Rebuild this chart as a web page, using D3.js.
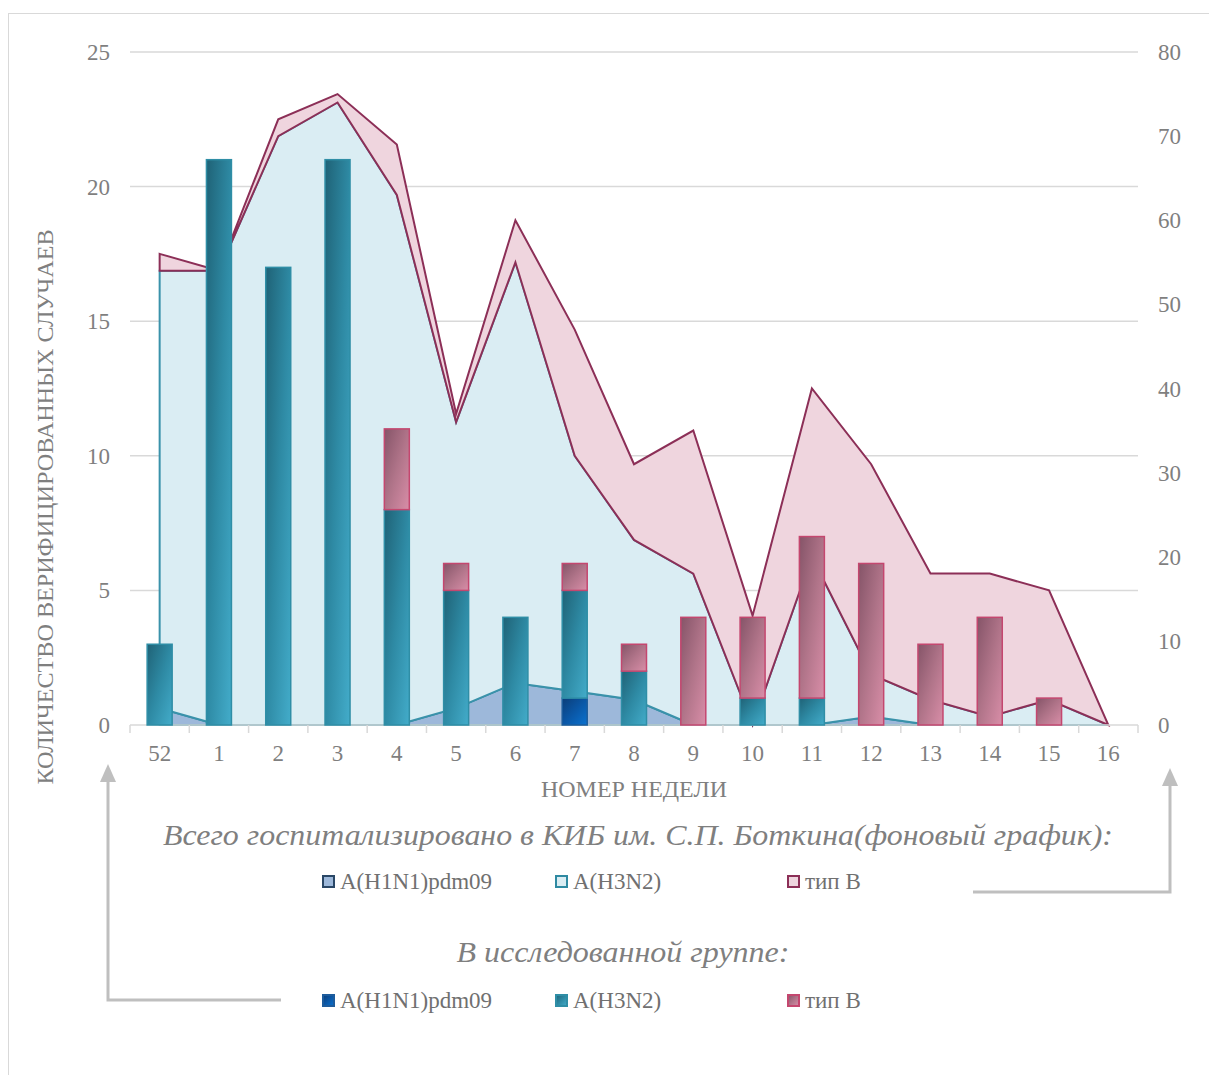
<!DOCTYPE html>
<html>
<head>
<meta charset="utf-8">
<script src="https://cdn.jsdelivr.net/npm/d3@7"></script>
<style>
  html, body { margin: 0; padding: 0; background: #ffffff; }
  svg { display: block; }
</style>
</head>
<body>
<svg id="chart" width="1209" height="1075" font-family="'Liberation Serif', 'DejaVu Serif', 'Noto Serif', 'Times New Roman', Times, serif"></svg>
<script>
// Epidemiological weeks
const weeks = ["52","1","2","3","4","5","6","7","8","9","10","11","12","13","14","15","16"];

// All hospitalised at Botkin hospital (background areas, right axis)
const hospH1N1 = [2, 0, 0, 0, 0, 2, 5, 4, 3, 0, 0, 0, 1, 0, 0, 0, 0];
const hospH3N2 = [52, 54, 70, 74, 63, 34, 50, 28, 19, 18, 0, 20, 5, 3, 1, 3, 0];
const hospB    = [2, 0, 2, 1, 6, 1, 5, 15, 9, 17, 13, 20, 25, 15, 17, 13, 0];

// Study group (stacked bars, left axis)
const studyH1N1 = [0, 0, 0, 0, 0, 0, 0, 1, 0, 0, 0, 0, 0, 0, 0, 0, 0];
const studyH3N2 = [3, 21, 17, 21, 8, 5, 4, 4, 2, 0, 1, 1, 0, 0, 0, 0, 0];
const studyB    = [0, 0, 0, 0, 3, 1, 0, 1, 1, 4, 3, 6, 6, 3, 4, 1, 0];

// Axis ticks
const leftTicks  = [0, 5, 10, 15, 20, 25];
const rightTicks = [0, 10, 20, 30, 40, 50, 60, 70, 80];

// Text
const yTitle = "КОЛИЧЕСТВО ВЕРИФИЦИРОВАННЫХ СЛУЧАЕВ";
const xTitle = "НОМЕР НЕДЕЛИ";
const legendTitle1 = "Всего госпитализировано в КИБ им. С.П. Боткина(фоновый график):";
const legendTitle2 = "В исследованной группе:";
const seriesNames = ["A(H1N1)pdm09", "A(H3N2)", "тип B"];

const svg = d3.select("#chart");
const plot = { left: 130, right: 1138, top: 52, bottom: 725 };

const grey = "#7f7f7f";
const gridCol = "#d9d9d9";

// chart frame
svg.append("rect").attr("x", 8.5).attr("y", 13.5).attr("width", 1215).attr("height", 1075)
  .attr("fill", "none").attr("stroke", "#d9d9d9").attr("stroke-width", 1);

// scales
const x = d3.scaleBand().domain(weeks).range([plot.left, plot.right]).paddingInner(0).paddingOuter(0);
const cx = w => x(w) + x.bandwidth() / 2;
const yL = d3.scaleLinear().domain([0, 25]).range([plot.bottom, plot.top]);
const yR = d3.scaleLinear().domain([0, 80]).range([plot.bottom, plot.top]);
const barW = 25;

// gradients
const defs = svg.append("defs");
function grad(id, stops) {
  const g = defs.append("linearGradient").attr("id", id)
    .attr("x1", 0).attr("y1", 0).attr("x2", 1).attr("y2", 1);
  stops.forEach(([o, c]) => g.append("stop").attr("offset", o).attr("stop-color", c));
}
grad("gH1", [[0, "#0b3d78"], [0.5, "#0a57a6"], [1, "#0a72d0"]]);
grad("gH3", [[0, "#1f6276"], [0.5, "#2e8aa4"], [1, "#43acca"]]);
grad("gB",  [[0, "#855468"], [0.5, "#b07489"], [1, "#d98ea8"]]);

// gridlines
svg.append("g").selectAll("line").data(leftTicks.filter(t => t > 0)).join("line")
  .attr("x1", plot.left).attr("x2", plot.right)
  .attr("y1", d => yL(d)).attr("y2", d => yL(d))
  .attr("stroke", gridCol).attr("stroke-width", 1.5);

// background stacked areas
const rows = weeks.map((w, i) => ({ week: w, h1: hospH1N1[i], h3: hospH3N2[i], b: hospB[i] }));
const areaStack = d3.stack().keys(["h1", "h3", "b"])(rows);
const areaGen = d3.area()
  .x(d => cx(d.data.week))
  .y0(d => yR(d[0]))
  .y1(d => yR(d[1]));
const areaStyles = [
  { fill: "#9db8da", stroke: "#2f8aa2" },
  { fill: "#daedf3", stroke: "#3a92aa" },
  { fill: "#efd5de", stroke: "#8c2f57" }
];
const areaG = svg.append("g");
areaStack.forEach((s, i) => {
  areaG.append("path")
    .attr("d", areaGen(s) + "Z")
    .attr("fill", areaStyles[i].fill)
    .attr("stroke", areaStyles[i].stroke)
    .attr("stroke-width", 2)
    .attr("stroke-linejoin", "miter");
});

// x axis baseline and ticks
const axisG = svg.append("g").attr("transform", `translate(0,${plot.bottom})`);
axisG.append("line").attr("x1", plot.left).attr("x2", plot.right).attr("y1", 0).attr("y2", 0)
  .attr("stroke", gridCol).attr("stroke-width", 1.5);
const edges = weeks.map(w => x(w)).concat([plot.right]);
axisG.selectAll("line.tk").data(edges).join("line").attr("class", "tk")
  .attr("x1", d => d).attr("x2", d => d).attr("y1", 0).attr("y2", 8)
  .attr("stroke", gridCol).attr("stroke-width", 1.5);

// stacked bars (study group)
const barRows = weeks.map((w, i) => ({ week: w, h1: studyH1N1[i], h3: studyH3N2[i], b: studyB[i] }));
const barStack = d3.stack().keys(["h1", "h3", "b"])(barRows);
const barStyles = [
  { fill: "url(#gH1)", stroke: "#1d5c9c" },
  { fill: "url(#gH3)", stroke: "#2f8ea6" },
  { fill: "url(#gB)",  stroke: "#c4476f" }
];
const barG = svg.append("g");
barStack.forEach((s, i) => {
  barG.selectAll(null).data(s.filter(d => d[1] - d[0] > 0)).join("rect")
    .attr("x", d => cx(d.data.week) - barW / 2)
    .attr("width", barW)
    .attr("y", d => yL(d[1]))
    .attr("height", d => yL(d[0]) - yL(d[1]))
    .attr("fill", barStyles[i].fill)
    .attr("stroke", barStyles[i].stroke)
    .attr("stroke-width", 1.5);
});

// tick labels
const tickFont = 23;
svg.append("g").selectAll("text").data(leftTicks).join("text")
  .attr("x", 110).attr("y", d => yL(d)).attr("dy", "0.35em")
  .attr("text-anchor", "end").attr("font-size", tickFont).attr("fill", grey)
  .text(d => d);
svg.append("g").selectAll("text").data(rightTicks).join("text")
  .attr("x", 1158).attr("y", d => yR(d)).attr("dy", "0.35em")
  .attr("text-anchor", "start").attr("font-size", tickFont).attr("fill", grey)
  .text(d => d);
svg.append("g").selectAll("text").data(weeks).join("text")
  .attr("x", d => cx(d)).attr("y", 761)
  .attr("text-anchor", "middle").attr("font-size", tickFont).attr("fill", grey)
  .text(d => d);

// axis titles
svg.append("text")
  .attr("transform", "translate(53,507) rotate(-90)")
  .attr("text-anchor", "middle").attr("font-size", 23).attr("fill", grey)
  .attr("textLength", 555).attr("lengthAdjust", "spacingAndGlyphs")
  .text(yTitle);
svg.append("text")
  .attr("x", 634).attr("y", 797)
  .attr("text-anchor", "middle").attr("font-size", 23).attr("fill", grey)
  .attr("textLength", 186).attr("lengthAdjust", "spacingAndGlyphs")
  .text(xTitle);

// legend titles
svg.append("text")
  .attr("x", 638).attr("y", 845)
  .attr("text-anchor", "middle").attr("font-size", 30).attr("font-style", "italic").attr("fill", grey)
  .attr("textLength", 950).attr("lengthAdjust", "spacingAndGlyphs")
  .text(legendTitle1);
svg.append("text")
  .attr("x", 623).attr("y", 962)
  .attr("text-anchor", "middle").attr("font-size", 30).attr("font-style", "italic").attr("fill", grey)
  .attr("textLength", 333).attr("lengthAdjust", "spacingAndGlyphs")
  .text(legendTitle2);

// legend entries
const legX = [322, 555, 787];
const legend1 = [
  { fill: "#9db8da", stroke: "#2a4766" },
  { fill: "#daedf3", stroke: "#2f8aa2" },
  { fill: "#efd5de", stroke: "#8c2f57" }
];
const legend2 = barStyles;
function legendRow(y, styles) {
  const g = svg.append("g");
  seriesNames.forEach((name, i) => {
    g.append("rect").attr("x", legX[i] + 1).attr("y", y - 13).attr("width", 11).attr("height", 11)
      .attr("fill", styles[i].fill).attr("stroke", styles[i].stroke).attr("stroke-width", 2);
    g.append("text").attr("x", legX[i] + 18).attr("y", y).attr("font-size", 23).attr("fill", "#707070")
      .text(name);
  });
}
legendRow(889, legend1);
legendRow(1008, legend2);

// connector arrows
const arrowCol = "#bfbfbf";
const arrG = svg.append("g").attr("fill", "none").attr("stroke", arrowCol).attr("stroke-width", 3);
arrG.append("path").attr("d", "M281,1000 L108,1000 L108,778");
arrG.append("path").attr("d", "M973,892 L1170,892 L1170,782");
svg.append("path").attr("d", "M108,764 L100,782 L116,782 Z").attr("fill", arrowCol);
svg.append("path").attr("d", "M1170,768 L1162,786 L1178,786 Z").attr("fill", arrowCol);
</script>
</body>
</html>
